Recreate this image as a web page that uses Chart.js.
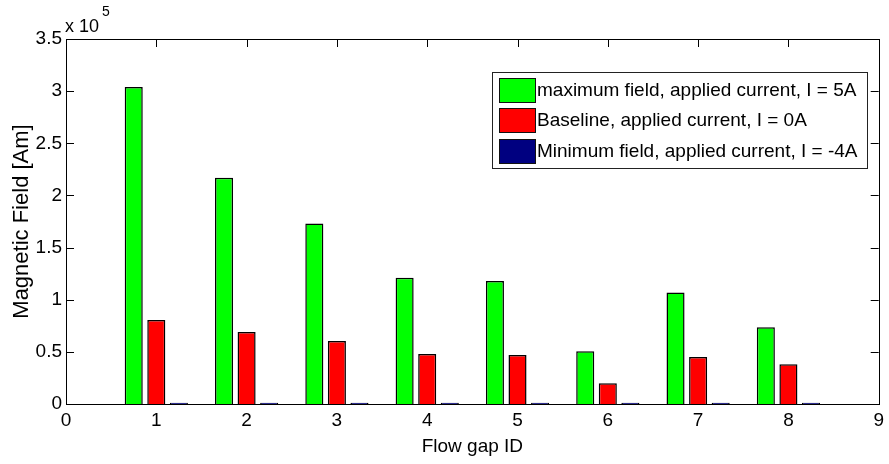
<!DOCTYPE html>
<html>
<head>
<meta charset="utf-8">
<script src="https://cdn.jsdelivr.net/npm/chart.js@4.4.0/dist/chart.umd.min.js"></script>
<style>
    html, body { margin: 0; padding: 0; background: #fff; }
    #wrap { width: 889px; height: 464px; }
</style>
</head>
<body>
<div id="wrap"><canvas id="fieldChart" width="889" height="464"></canvas></div>
<script>
// Chart data
const flowGapIds = [1, 2, 3, 4, 5, 6, 7, 8];
const maxFieldValues = [304000, 217000, 173000, 121000, 118000, 50500, 107000, 73500];
const baselineValues = [80500, 69000, 60500, 48000, 47000, 20000, 45000, 38000];
const minFieldValues = [1200, 1200, 1200, 1200, 1200, 1200, 1200, 1200];
const xTickValues = [0, 1, 2, 3, 4, 5, 6, 7, 8, 9];
const yTickValues = [0, 50000, 100000, 150000, 200000, 250000, 300000, 350000];
const seriesLabels = [
    'maximum field, applied current, I = 5A',
    'Baseline, applied current, I = 0A',
    'Minimum field, applied current, I = -4A'
];
const seriesColors = ['#00ff00', '#ff0000', '#000080'];

const FONT = "'Liberation Sans', Arial, sans-serif";

// Build {x, y} points so bars sit on a linear x axis (0..9)
function toPoints(values) {
    return flowGapIds.map((id, i) => ({ x: id, y: values[i] }));
}

// MATLAB-like box, inward ticks, exponent label and legend
const matlabAxes = {
    id: 'matlabAxes',
    beforeDatasetsDraw(chart) {
        const { ctx, chartArea: a, scales: { x, y } } = chart;
        const len = 8;
        ctx.save();
        ctx.strokeStyle = '#000';
        ctx.lineWidth = 1;
        ctx.beginPath();
        xTickValues.forEach(v => {
            const px = Math.round(x.getPixelForValue(v)) + 0.5;
            ctx.moveTo(px, a.bottom); ctx.lineTo(px, a.bottom - len);
            ctx.moveTo(px, a.top); ctx.lineTo(px, a.top + len);
        });
        yTickValues.forEach(v => {
            const py = Math.round(y.getPixelForValue(v)) + 0.5;
            ctx.moveTo(a.left, py); ctx.lineTo(a.left + len, py);
            ctx.moveTo(a.right, py); ctx.lineTo(a.right - len, py);
        });
        ctx.stroke();
        ctx.restore();
    },
    afterDatasetsDraw(chart) {
        const { ctx, chartArea: a } = chart;
        ctx.save();
        // axes box
        ctx.strokeStyle = '#000';
        ctx.lineWidth = 1;
        ctx.strokeRect(Math.round(a.left) + 0.5, Math.round(a.top) + 0.5,
            Math.round(a.right - a.left), Math.round(a.bottom - a.top));

        // exponent label
        ctx.fillStyle = '#000';
        ctx.textBaseline = 'alphabetic';
        ctx.textAlign = 'left';
        ctx.font = '18px ' + FONT;
        ctx.fillText('x 10', 65, 32);
        ctx.font = '14px ' + FONT;
        ctx.fillText('5', 102, 16);

        // legend
        const lx = 492, ly = 72, lw = 375, lh = 96;
        ctx.fillStyle = '#fff';
        ctx.fillRect(lx, ly, lw, lh);
        ctx.strokeStyle = '#222';
        ctx.strokeRect(lx + 0.5, ly + 0.5, lw, lh);
        ctx.font = '19px ' + FONT;
        ctx.textBaseline = 'middle';
        chart.data.datasets.forEach((ds, i) => {
            const cy = 89.5 + i * 30.5;
            ctx.fillStyle = ds.backgroundColor;
            ctx.fillRect(499, Math.round(cy - 12), 36, 24);
            ctx.strokeStyle = '#111';
            ctx.strokeRect(499.5, Math.round(cy - 12) + 0.5, 36, 24);
            ctx.fillStyle = '#000';
            ctx.fillText(ds.label, 537, cy + 1);
        });
        ctx.restore();
    }
};

const datasetValues = [maxFieldValues, baselineValues, minFieldValues];

new Chart(document.getElementById('fieldChart').getContext('2d'), {
    type: 'bar',
    data: {
        datasets: datasetValues.map((vals, i) => ({
            label: seriesLabels[i],
            data: toPoints(vals),
            backgroundColor: seriesColors[i],
            borderColor: '#000',
            borderWidth: 1.5,
            categoryPercentage: 0.75,
            barPercentage: 0.8
        }))
    },
    options: {
        responsive: false,
        animation: false,
        layout: { padding: { top: 39, right: 9, left: 0, bottom: 0 } },
        plugins: {
            legend: { display: false },
            tooltip: { enabled: false }
        },
        scales: {
            x: {
                type: 'linear',
                min: 0,
                max: 9,
                offset: false,
                grid: { display: false, drawTicks: false, offset: false },
                border: { display: false },
                afterBuildTicks: s => { s.ticks = xTickValues.map(v => ({ value: v })); },
                afterFit: s => { s.height = 60; },
                ticks: {
                    padding: 5,
                    maxRotation: 0,
                    color: '#000',
                    font: { family: FONT, size: 19 },
                    callback: v => String(v)
                },
                title: {
                    display: true,
                    text: 'Flow gap ID',
                    color: '#000',
                    font: { family: FONT, size: 19 },
                    padding: { top: 0, bottom: 6 }
                }
            },
            y: {
                min: 0,
                max: 350000,
                grid: { display: false, drawTicks: false },
                border: { display: false },
                afterBuildTicks: s => { s.ticks = yTickValues.map(v => ({ value: v })); },
                afterFit: s => { s.width = 66; },
                ticks: {
                    padding: 4,
                    color: '#000',
                    font: { family: FONT, size: 19 },
                    callback: v => String(v / 100000)
                },
                title: {
                    display: true,
                    text: 'Magnetic Field [Am]',
                    color: '#000',
                    font: { family: FONT, size: 22 },
                    padding: { top: 9, bottom: 0 }
                }
            }
        }
    },
    plugins: [matlabAxes]
});
</script>
</body>
</html>
